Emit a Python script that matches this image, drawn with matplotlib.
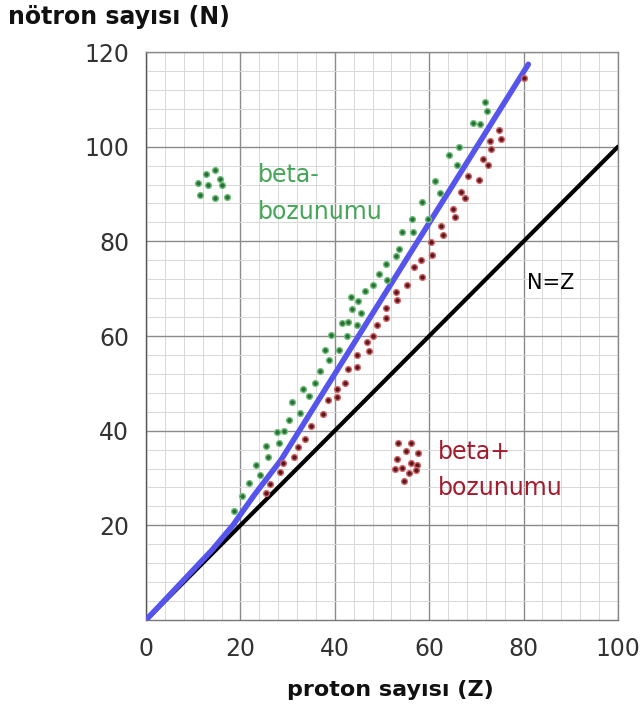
import matplotlib
matplotlib.use("Agg")
import matplotlib.pyplot as plt
import numpy as np

# stability line (blue)
stab_z = [0, 14, 18.4, 23, 28.6, 81]
stab_n = [0, 14.8, 20, 26.5, 33.8, 117.4]

# beta- nuclides (green, above the line)
green_z = [18.6, 20.3, 21.9, 24.2, 23.4, 25.8, 25.5, 28.1, 29.3, 27.7, 30.4, 32.6, 30.9, 34.5,
           33.3, 35.9, 36.9, 38.8, 40.9, 38.0, 39.2, 42.5, 44.8, 41.5, 42.7, 45.5, 43.6, 45.0,
           43.4, 46.4, 48.1, 51.1, 49.4, 50.9, 52.9, 53.7, 54.3, 56.6, 56.4, 59.8, 58.4, 62.2,
           61.3, 65.9, 64.1, 66.4, 69.2, 70.8, 72.2, 71.9]
green_n = [23.0, 26.1, 28.9, 30.6, 32.7, 34.4, 36.8, 37.4, 40.0, 39.8, 42.3, 43.8, 46.1, 47.3,
           48.7, 50.0, 52.7, 54.9, 57.0, 57.0, 60.2, 59.9, 62.3, 62.8, 63.0, 64.8, 65.6, 67.5,
           68.3, 69.6, 70.8, 71.8, 73.1, 75.2, 76.9, 78.4, 81.9, 82.0, 84.7, 84.7, 88.3, 90.2,
           92.8, 96.1, 98.3, 99.9, 105.1, 104.8, 107.6, 109.5]

# beta+ nuclides (red, below the line)
red_z = [25.5, 26.2, 28.4, 29.1, 31.4, 32.1, 33.7, 35.0, 37.4, 38.5, 40.4, 40.4, 42.2, 42.9,
         44.6, 44.8, 47.3, 46.9, 48.1, 49.0, 50.9, 50.8, 53.2, 53.0, 55.3, 58.5, 56.8, 58.2,
         60.5, 60.3, 62.9, 62.4, 65.4, 65.0, 67.5, 66.8, 70.6, 68.2, 72.4, 71.5, 73.1, 72.9,
         75.3, 74.7, 80.0]
red_n = [26.8, 28.7, 31.2, 33.1, 34.5, 36.6, 38.2, 41.0, 43.5, 46.5, 47.2, 48.7, 50.0, 53.0,
         53.5, 56.0, 56.9, 58.8, 60.0, 62.3, 63.7, 65.9, 67.6, 69.4, 70.8, 72.4, 74.5, 76.1,
         77.1, 79.9, 81.3, 83.2, 85.1, 86.8, 89.1, 90.5, 93.0, 93.8, 96.1, 97.3, 99.5, 101.3,
         101.6, 103.5, 114.5]

# little dot clusters next to the labels
green_key_z = [14.6, 12.7, 15.6, 11.0, 13.1, 16.0, 11.5, 14.6, 17.2]
green_key_n = [95.1, 94.2, 93.1, 92.3, 91.9, 91.9, 89.8, 89.1, 89.4]
red_key_z = [53.4, 56.1, 55.0, 57.7, 53.2, 56.1, 57.4, 52.7, 54.3, 57.1, 55.8, 54.6]
red_key_n = [37.3, 37.5, 35.6, 35.2, 34.0, 33.2, 32.7, 31.8, 32.1, 31.7, 31.0, 29.4]

x_ticks = [0, 20, 40, 60, 80, 100]
y_ticks = [20, 40, 60, 80, 100, 120]

green_txt = '#45a556'
red_txt = '#a31c2e'

fig = plt.figure(figsize=(6.42, 7.13), dpi=100)
ax = fig.add_axes([146/642, 1 - 620/713, (618 - 146)/642, (620 - 52)/713])

ax.set_xlim(0, 100)
ax.set_ylim(0, 120)
ax.set_xticks(x_ticks)
ax.set_yticks(y_ticks)
ax.set_xticks(np.arange(0, 101, 4), minor=True)
ax.set_yticks(np.arange(0, 121, 4), minor=True)
ax.grid(which='major', color='#8a8a8a', linewidth=1.0)
ax.grid(which='minor', color='#d8d8d8', linewidth=0.7)
ax.set_axisbelow(True)
ax.tick_params(which='both', length=0, labelsize=17, labelcolor='#333333', pad=12)
for s in ax.spines.values():
    s.set_color('#8a8a8a')
    s.set_linewidth(1.0)
ax.spines['left'].set_color('#555555')
ax.spines['bottom'].set_color('#777777')

# N = Z line
ax.plot([0, 100], [0, 100], color='black', linewidth=3.0, solid_capstyle='round', zorder=3)
# stability line
ax.plot(stab_z, stab_n, color='#5555ee', linewidth=4.0, solid_capstyle='round', zorder=4)

dot = dict(linestyle='none', marker='o', markersize=4.2, markeredgewidth=1.0, zorder=5)
ax.plot(green_z, green_n, markerfacecolor='#2b6e36', markeredgecolor='#72c27f', **dot)
ax.plot(green_key_z, green_key_n, markerfacecolor='#2b6e36', markeredgecolor='#72c27f', **dot)
ax.plot(red_z, red_n, markerfacecolor='#5a1820', markeredgecolor='#d86a6a', **dot)
ax.plot(red_key_z, red_key_n, markerfacecolor='#5a1820', markeredgecolor='#d86a6a', **dot)

ax.text(23.7, 94.0, 'beta-', color=green_txt, fontsize=17, va='center', ha='left')
ax.text(23.7, 86.1, 'bozunumu', color=green_txt, fontsize=17, va='center', ha='left')
ax.text(61.9, 35.5, 'beta+', color=red_txt, fontsize=17, va='center', ha='left')
ax.text(61.9, 27.9, 'bozunumu', color=red_txt, fontsize=17, va='center', ha='left')
ax.text(80.7, 71.2, 'N=Z', color='black', fontsize=15, va='center', ha='left')

fig.text(8/642, 1 - 17/713, 'nötron sayısı (N)', fontsize=17, fontweight='bold',
         color='#111111', ha='left', va='center')
fig.text(390/642, 1 - 690/713, 'proton sayısı (Z)', fontsize=16, fontweight='bold',
         color='#111111', ha='center', va='center')

fig.savefig('out.png', dpi=100)
